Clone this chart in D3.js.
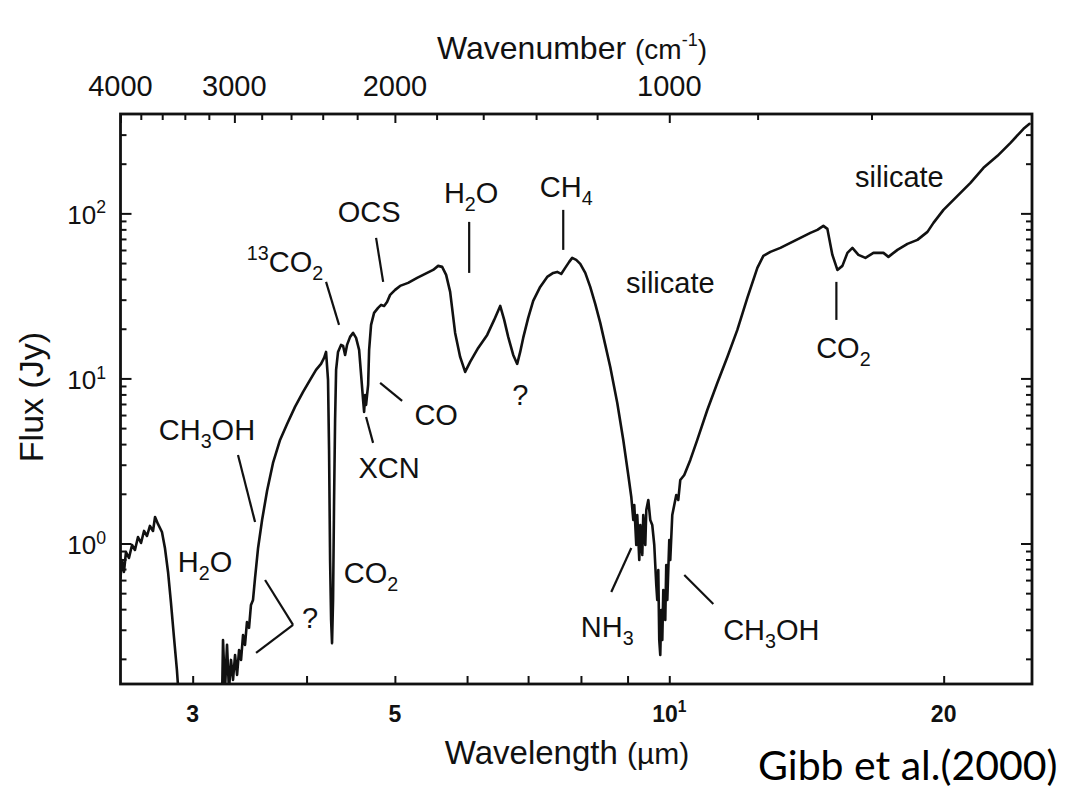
<!DOCTYPE html>
<html><head><meta charset="utf-8">
<script src="https://cdn.jsdelivr.net/npm/d3@7"></script>
<style>
body{margin:0;background:#fff}
svg{display:block}
text{font-family:"Liberation Sans",Arial,Helvetica,sans-serif;fill:#111}
</style>
</head><body>
<svg id="chart" width="1082" height="790"></svg>
<script>
// ---------------- data ----------------
const wavelength = [2.500,2.509,2.522,2.535,2.554,2.574,2.593,2.613,2.633,2.653,2.673,2.693,2.714,2.728,2.748,2.776,2.797,2.819,2.840,2.862,2.883,2.898,3.056,3.174,
3.231,3.239,3.255,3.272,3.288,3.305,3.322,3.339,3.356,3.373,3.390,3.407,3.424,3.441,3.459,3.476,3.494,3.512,3.539,3.575,3.620,3.675,3.741,3.808,3.885,3.965,4.036,4.097,4.149,4.181,
4.202,4.223,4.234,4.245,4.256,4.266,4.277,4.288,4.299,4.310,4.331,4.364,4.387,4.409,4.431,4.465,4.499,4.533,4.568,4.591,4.614,4.626,4.638,4.649,4.673,4.685,4.708,4.744,4.792,4.829,
4.866,4.902,4.940,5.003,5.066,5.170,5.289,5.397,5.507,5.577,5.634,5.691,5.749,5.822,5.896,5.971,6.047,6.171,6.313,6.425,6.524,6.590,6.657,6.742,6.810,6.862,6.914,7.002,7.091,7.217,
7.346,7.459,7.534,7.611,7.688,7.766,7.825,7.905,7.986,8.088,8.190,8.294,8.400,8.507,8.615,8.769,8.903,9.016,9.085,9.131,9.154,9.200,9.223,9.270,9.294,9.341,9.364,9.412,9.436,9.484,
9.531,9.579,9.628,9.677,9.701,9.726,9.750,9.775,9.800,9.825,9.850,9.899,9.924,9.950,10.000,10.025,10.076,10.127,10.178,10.230,10.282,10.386,10.546,10.733,11.008,11.290,11.580,11.876,12.180,12.492,
12.683,12.910,13.240,13.579,13.927,14.283,14.537,14.759,14.909,15.099,15.291,15.486,15.683,15.882,16.125,16.413,16.748,17.177,17.395,17.796,18.251,18.718,19.198,19.491,19.990,20.710,21.402,22.117,22.914,23.679,
24.470,24.845];
const flux = [0.618,0.794,0.672,0.888,0.817,0.979,0.913,1.095,1.007,1.191,1.110,1.277,1.191,1.447,1.313,1.174,0.939,0.672,0.436,0.268,0.171,0.113,0.074,0.074,
0.113,0.260,0.129,0.243,0.129,0.197,0.149,0.211,0.160,0.226,0.197,0.279,0.243,0.334,0.308,0.424,0.455,0.618,0.939,1.388,2.08,3.075,4.24,5.30,6.72,8.28,9.79,11.26,12.24,13.31,
14.47,9.79,3.69,0.794,0.344,0.249,0.455,1.835,5.60,11.26,14.47,15.96,15.74,13.88,15.96,17.85,18.87,17.60,14.89,10.50,7.41,6.27,7.94,6.91,9.13,14.89,21.10,24.95,26.75,27.89,
27.50,29.08,32.07,34.39,36.36,37.92,40.64,42.97,45.45,48.07,47.40,42.38,33.44,18.87,13.50,10.95,12.59,15.30,18.35,22.62,27.50,22.62,17.85,13.88,12.24,14.47,17.60,23.26,29.49,35.85,
41.22,43.58,44.20,42.97,46.73,50.83,53.75,52.27,49.43,43.58,35.85,28.28,21.70,15.96,11.74,7.10,4.24,2.60,1.913,1.388,1.711,0.979,1.488,0.794,1.295,0.852,1.488,0.979,1.596,1.835,
1.388,1.295,0.979,0.560,0.455,0.691,0.260,0.211,0.395,0.260,0.523,0.344,0.741,0.455,1.050,0.794,1.488,1.711,1.967,1.835,2.426,2.60,3.207,4.24,6.44,9.39,13.50,19.68,30.75,46.73,
55.27,58.44,61.79,66.26,71.03,76.16,79.43,84.02,80.55,56.04,45.45,48.07,57.63,61.79,56.04,53.75,57.63,57.63,54.51,60.09,65.35,69.10,77.25,87.60,105.0,127.7,153.0,188.7,223.1,267.5,
325.2,348.7];

const wavelengthDomain = [2.5, 25];
const fluxDomain = [0.1408, 400];
const bottomTicks = [3,4,5,6,7,8,9,10,20];
const bottomLabelValues = [3,5,10,20];
const bottomLabelText = ["3","5","10^{1}","20"];
const topTicks = [3800,3600,3400,3200,2800,2600,2400,2200,1800,1600,1400,1200,800,600];
const topMajorTicks = [4000,3000,2000,1000];
const topLabelText = ["4000","3000","2000","1000"];
const yMajorTicks = [1,10,100];
const yMajorText = ["10^{0}","10^{1}","10^{2}"];
const yMinorTicks = [0.2,0.3,0.4,0.5,0.6,0.7,0.8,0.9,2,3,4,5,6,7,8,9,20,30,40,50,60,70,80,90,200,300];

const labelText = ["CH_{3}OH","H_{2}O","?","CO_{2}","^{13}CO_{2}","OCS","H_{2}O","CO","XCN","?","CH_{4}","silicate","NH_{3}","CH_{3}OH","silicate","CO_{2}"];
const labelWave = [3.110,3.095,4.036,4.708,3.788,4.685,6.062,5.549,4.927,6.862,7.708,10.025,8.550,12.942,17.886,15.525];
const labelFlux = [4.24,0.672,0.308,0.576,44.20,88.8,115.8,5.23,2.49,6.91,125.9,32.98,0.271,0.260,144.7,13.31];

const leaderWaveA = [3.364,3.602,3.866,4.202,4.768,6.032,4.817,4.649,7.650,9.085,10.386,15.252];
const leaderFluxA = [3.44,0.601,0.321,38.45,71.03,88.8,9.39,5.84,105.0,0.939,0.644,38.45];
const leaderWaveB = [3.512,3.866,3.521,4.342,4.854,6.032,5.092,4.732,7.650,8.637,11.177,15.252];
const leaderFluxB = [1.35,0.321,0.217,21.10,38.45,43.58,7.31,4.07,60.09,0.508,0.430,22.62];

// ---------------- layout ----------------
const L = 120.5, R = 1032, T = 114, B = 684;
const svg = d3.select("#chart");
const x = d3.scaleLog().domain(wavelengthDomain).range([L, R]);
const xTop = d3.scaleLog().domain(wavelengthDomain.map(w => 10000 / w)).range([L, R]);
const y = d3.scaleLog().domain(fluxDomain).range([B, T]);

function rich(textSel, str, fs) {
  const re = /([_^])\{([^}]*)\}|([^_^]+)/g;
  let m, cur = 0;
  while ((m = re.exec(str))) {
    if (m[3] !== undefined) {
      textSel.append("tspan").attr("dy", -cur).text(m[3]);
      cur = 0;
    } else {
      const s = m[1] === "_" ? fs * 0.28 : -fs * 0.42;
      textSel.append("tspan").attr("dy", s - cur).attr("font-size", fs * 0.68).text(m[2]);
      cur = s;
    }
  }
}

function styleAxis(g) {
  g.select(".domain").remove();
  g.selectAll(".tick line").attr("stroke", "#111").attr("stroke-width", 2);
  g.selectAll(".tick text").remove();
}

// ticks
svg.append("g").attr("transform", `translate(0,${B})`)
  .call(d3.axisBottom(x).tickValues(bottomTicks).tickSize(-8).tickSizeOuter(0)).call(styleAxis);
svg.append("g").attr("transform", `translate(0,${T})`)
  .call(d3.axisTop(xTop).tickValues(topTicks).tickSize(-6).tickSizeOuter(0)).call(styleAxis);
svg.append("g").attr("transform", `translate(0,${T})`)
  .call(d3.axisTop(xTop).tickValues(topMajorTicks).tickSize(-9).tickSizeOuter(0)).call(styleAxis);
svg.append("g").attr("transform", `translate(${L},0)`)
  .call(d3.axisLeft(y).tickValues(yMinorTicks).tickSize(-6).tickSizeOuter(0)).call(styleAxis);
svg.append("g").attr("transform", `translate(${L},0)`)
  .call(d3.axisLeft(y).tickValues(yMajorTicks).tickSize(-11).tickSizeOuter(0)).call(styleAxis);
svg.append("g").attr("transform", `translate(${R},0)`)
  .call(d3.axisRight(y).tickValues(yMinorTicks).tickSize(-6).tickSizeOuter(0)).call(styleAxis);
svg.append("g").attr("transform", `translate(${R},0)`)
  .call(d3.axisRight(y).tickValues(yMajorTicks).tickSize(-11).tickSizeOuter(0)).call(styleAxis);

// frame
svg.append("rect").attr("x", L).attr("y", T).attr("width", R - L).attr("height", B - T)
  .attr("fill", "none").attr("stroke", "#111").attr("stroke-width", 2.8);

// tick labels
bottomLabelValues.forEach((v, i) => {
  const t = svg.append("text").attr("x", x(v)).attr("y", 722).attr("text-anchor", "middle")
    .attr("font-size", 23).attr("font-weight", "bold");
  rich(t, bottomLabelText[i], 23);
});
topMajorTicks.forEach((v, i) => {
  svg.append("text").attr("x", xTop(v)).attr("y", 96).attr("text-anchor", "middle")
    .attr("font-size", 29).text(topLabelText[i]);
});
yMajorTicks.forEach((v, i) => {
  const t = svg.append("text").attr("x", 106).attr("y", y(v) + 11).attr("text-anchor", "end")
    .attr("font-size", 26);
  rich(t, yMajorText[i], 26);
});

// axis titles
const tt = svg.append("text").attr("x", 572).attr("y", 59).attr("text-anchor", "middle").attr("font-size", 32);
tt.append("tspan").text("Wavenumber ");
tt.append("tspan").attr("font-size", 28).text("(cm");
tt.append("tspan").attr("font-size", 18).attr("dy", -13).text("-1");
tt.append("tspan").attr("font-size", 28).attr("dy", 13).text(")");

const bt = svg.append("text").attr("x", 567).attr("y", 764).attr("text-anchor", "middle").attr("font-size", 33);
bt.append("tspan").text("Wavelength ");
bt.append("tspan").attr("font-size", 30).text("(\u00b5m)");

svg.append("text").attr("transform", "translate(43,397) rotate(-90)").attr("text-anchor", "middle")
  .attr("font-size", 34).text("Flux (Jy)");

svg.append("text").attr("x", 758).attr("y", 780).attr("font-size", 41)
  .style("font-family", "Lato, 'Open Sans', sans-serif").style("fill", "#000").text("Gibb et al.(2000)");

// spectrum
svg.append("clipPath").attr("id", "plotclip").append("rect")
  .attr("x", L).attr("y", T).attr("width", R - L).attr("height", B - T);
const pts = wavelength.map((w, i) => [w, flux[i]]);
svg.append("path").datum(pts)
  .attr("clip-path", "url(#plotclip)")
  .attr("fill", "none").attr("stroke", "#111").attr("stroke-width", 2.6)
  .attr("stroke-linejoin", "round").attr("stroke-linecap", "round")
  .attr("d", d3.line().x(d => x(d[0])).y(d => y(d[1])));

// leaders
leaderWaveA.forEach((w, i) => {
  svg.append("line").attr("x1", x(w)).attr("y1", y(leaderFluxA[i]))
    .attr("x2", x(leaderWaveB[i])).attr("y2", y(leaderFluxB[i]))
    .attr("stroke", "#111").attr("stroke-width", 2.2);
});

// labels
labelText.forEach((s, i) => {
  const t = svg.append("text").attr("x", x(labelWave[i])).attr("y", y(labelFlux[i]))
    .attr("text-anchor", "middle").attr("font-size", 29);
  rich(t, s, 29);
});
</script>
</body></html>
